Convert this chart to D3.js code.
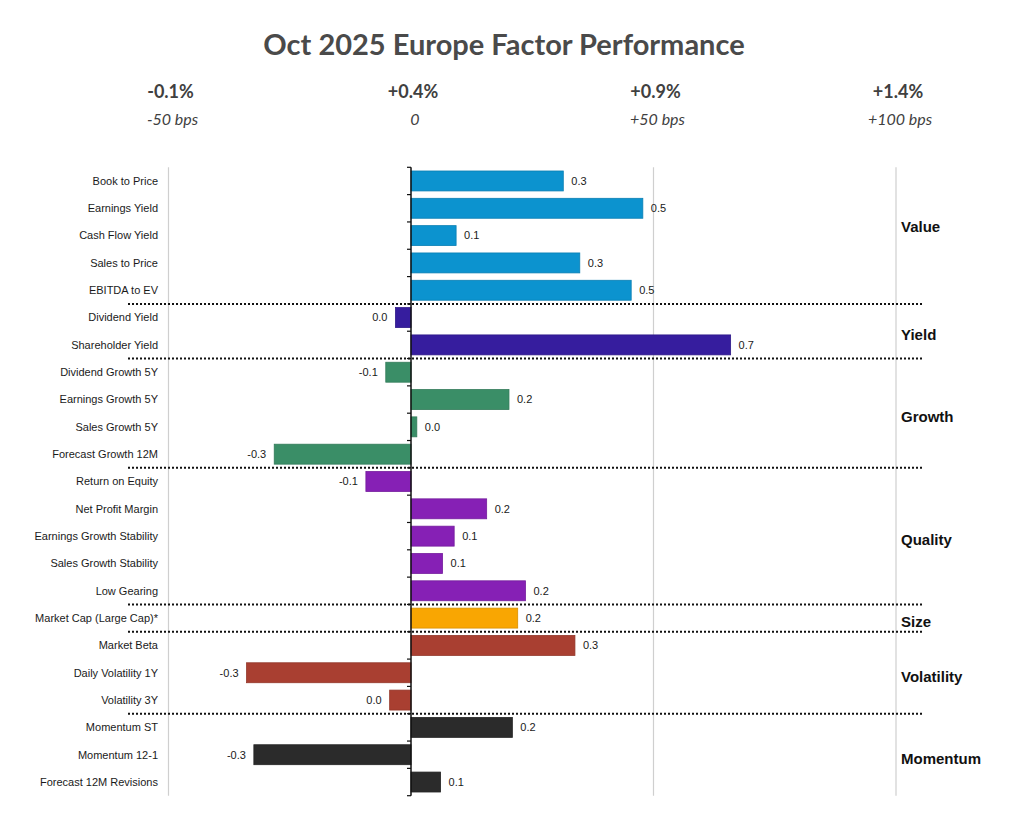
<!DOCTYPE html>
<html>
<head>
<meta charset="utf-8">
<script src="https://cdn.jsdelivr.net/npm/d3@7"></script>
<style>
  body { margin: 0; background: #fff; }
</style>
</head>
<body>
<script>
// factor names, top to bottom
const factors = [
    "Book to Price", "Earnings Yield", "Cash Flow Yield", "Sales to Price", "EBITDA to EV",
    "Dividend Yield", "Shareholder Yield",
    "Dividend Growth 5Y", "Earnings Growth 5Y", "Sales Growth 5Y", "Forecast Growth 12M",
    "Return on Equity", "Net Profit Margin", "Earnings Growth Stability", "Sales Growth Stability", "Low Gearing",
    "Market Cap (Large Cap)*",
    "Market Beta", "Daily Volatility 1Y", "Volatility 3Y",
    "Momentum ST", "Momentum 12-1", "Forecast 12M Revisions"
];

// relative performance, %
const perf = [
    0.314, 0.478, 0.093, 0.348, 0.454,
    -0.032, 0.659,
    -0.052, 0.202, 0.012, -0.282,
    -0.093, 0.156, 0.089, 0.065, 0.236,
    0.220,
    0.338, -0.339, -0.044,
    0.209, -0.324, 0.061
];

const groupOf = [
    "Value", "Value", "Value", "Value", "Value",
    "Yield", "Yield",
    "Growth", "Growth", "Growth", "Growth",
    "Quality", "Quality", "Quality", "Quality", "Quality",
    "Size",
    "Volatility", "Volatility", "Volatility",
    "Momentum", "Momentum", "Momentum"
];

const groups = ["Value", "Yield", "Growth", "Quality", "Size", "Volatility", "Momentum"];
const groupColors = ["#0c93cf", "#361d9e", "#3a8e67", "#8620b5", "#f9a602", "#a93f31", "#2b2b2b"];

// header above the plot: absolute return and excess in bps
const topTicks = [-0.5, 0, 0.5, 1.0];
const topPct = ["-0.1%", "+0.4%", "+0.9%", "+1.4%"];
const topBps = ["-50 bps", "0", "+50 bps", "+100 bps"];

const width = 1013;
const height = 830;

const svg = d3.select("body").append("svg")
    .attr("width", width)
    .attr("height", height);

const x = d3.scaleLinear()
    .domain([-0.5, 1.0])
    .range([168.5, 896]);

const y = d3.scaleBand()
    .domain(factors)
    .range([167.3, 795.7])
    .paddingInner(0.27)
    .paddingOuter(0.135);

const step = y.step();
const bandTop = i => y.range()[0] + i * step;

const color = d3.scaleOrdinal().domain(groups).range(groupColors);

// title
svg.append("text")
    .attr("x", 504)
    .attr("y", 55)
    .attr("text-anchor", "middle")
    .style("font-family", "Lato, 'Open Sans', sans-serif")
    .style("font-weight", "700")
    .style("font-size", "29px")
    .style("fill", "#4a4a4a")
    .text("Oct 2025 Europe Factor Performance");

// header labels
svg.selectAll(".pct")
    .data(topTicks)
    .enter()
    .append("text")
    .attr("class", "pct")
    .attr("x", d => x(d) + 2)
    .attr("y", 98)
    .attr("text-anchor", "middle")
    .style("font-family", "Lato, sans-serif")
    .style("font-weight", "700")
    .style("font-size", "18px")
    .style("fill", "#404040")
    .text((d, i) => topPct[i]);

svg.selectAll(".bps")
    .data(topTicks)
    .enter()
    .append("text")
    .attr("class", "bps")
    .attr("x", d => x(d) + 4)
    .attr("y", 125)
    .attr("text-anchor", "middle")
    .style("font-family", "Lato, sans-serif")
    .style("font-style", "italic")
    .style("font-size", "16px")
    .style("fill", "#404040")
    .text((d, i) => topBps[i]);

// vertical grid lines
svg.selectAll(".grid")
    .data([-0.5, 0.5, 1.0])
    .enter()
    .append("line")
    .attr("x1", d => x(d))
    .attr("x2", d => x(d))
    .attr("y1", y.range()[0])
    .attr("y2", y.range()[1])
    .style("stroke", "#cfcfcf")
    .style("stroke-width", 1.2);

// group separators (dotted)
const sepIdx = [];
for (let i = 1; i < factors.length; i++) {
    if (groupOf[i] !== groupOf[i - 1]) sepIdx.push(i);
}

svg.selectAll(".sep")
    .data(sepIdx)
    .enter()
    .append("line")
    .attr("x1", 128)
    .attr("x2", 923)
    .attr("y1", d => bandTop(d))
    .attr("y2", d => bandTop(d))
    .style("stroke", "#111")
    .style("stroke-width", 2)
    .style("stroke-dasharray", "2,2");

// bars
svg.selectAll(".bar")
    .data(factors)
    .enter()
    .append("rect")
    .attr("class", "bar")
    .attr("x", (d, i) => x(Math.min(0, perf[i])))
    .attr("y", d => y(d))
    .attr("width", (d, i) => Math.abs(x(perf[i]) - x(0)))
    .attr("height", y.bandwidth())
    .style("fill", (d, i) => color(groupOf[i]))
    .style("stroke", (d, i) => d3.color(color(groupOf[i])).darker(0.4))
    .style("stroke-width", 0.8);

// value labels
svg.selectAll(".val")
    .data(factors)
    .enter()
    .append("text")
    .attr("x", (d, i) => perf[i] >= 0 ? x(perf[i]) + 8 : x(perf[i]) - 8)
    .attr("y", d => y(d) + y.bandwidth() / 2)
    .attr("dy", "0.35em")
    .attr("text-anchor", (d, i) => perf[i] >= 0 ? "start" : "end")
    .style("font-family", "Arial, 'Liberation Sans', sans-serif")
    .style("font-size", "11px")
    .style("fill", "#1a1a1a")
    .text((d, i) => {
        const s = perf[i].toFixed(1);
        return s === "-0.0" ? "0.0" : s;
    });

// category labels
svg.selectAll(".cat")
    .data(factors)
    .enter()
    .append("text")
    .attr("x", 158)
    .attr("y", d => y(d) + y.bandwidth() / 2)
    .attr("dy", "0.35em")
    .attr("text-anchor", "end")
    .style("font-family", "Arial, 'Liberation Sans', sans-serif")
    .style("font-size", "11px")
    .style("fill", "#1a1a1a")
    .text(d => d);

// zero axis with ticks at band edges
const axisG = svg.append("g");
axisG.append("line")
    .attr("x1", x(0))
    .attr("x2", x(0))
    .attr("y1", y.range()[0])
    .attr("y2", y.range()[1])
    .style("stroke", "#111")
    .style("stroke-width", 1.5);

axisG.selectAll(".tick")
    .data(d3.range(factors.length + 1))
    .enter()
    .append("line")
    .attr("x1", x(0) - 4)
    .attr("x2", x(0))
    .attr("y1", d => bandTop(d))
    .attr("y2", d => bandTop(d))
    .style("stroke", "#111")
    .style("stroke-width", 1.2);

// group names on the right; the Value one sits a bit high in the original
svg.selectAll(".grp")
    .data(groups)
    .enter()
    .append("text")
    .attr("x", 901)
    .attr("y", g => {
        const first = groupOf.indexOf(g);
        const last = groupOf.lastIndexOf(g);
        const mid = (bandTop(first) + bandTop(last + 1)) / 2;
        return g === "Value" ? mid - 9 : mid + 4;
    })
    .attr("dy", "0.35em")
    .style("font-family", "Arial, 'Liberation Sans', sans-serif")
    .style("font-weight", "700")
    .style("font-size", "15px")
    .style("fill", "#111")
    .text(g => g);
</script>
</body>
</html>
